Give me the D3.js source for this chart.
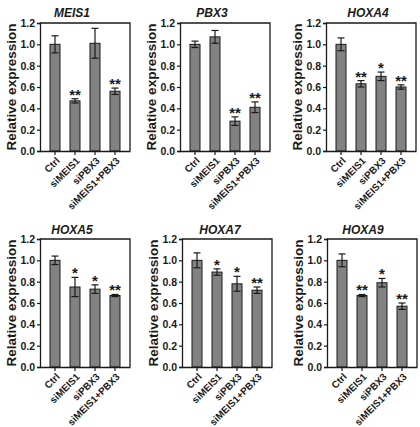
<!DOCTYPE html>
<html>
<head>
<meta charset="utf-8">
<script src="https://cdn.jsdelivr.net/npm/d3@7"></script>
<style>
  body { margin: 0; background: #fff; }
  svg { display: block; font-family: 'Liberation Sans', Arial, sans-serif; }
</style>
</head>
<body>
<svg id="chart" width="420" height="427"></svg>
<script>
const groups = ['Ctrl', 'siMEIS1', 'siPBX3', 'siMEIS1+PBX3'];
const genes = ['MEIS1', 'PBX3', 'HOXA4', 'HOXA5', 'HOXA7', 'HOXA9'];
const yTicks = [0.0, 0.2, 0.4, 0.6, 0.8, 1.0, 1.2];

const meis1Mean = [1.00, 0.47, 1.01, 0.56];
const meis1Err = [0.08, 0.02, 0.14, 0.03];
const meis1Sig = ['', '**', '', '**'];

const pbx3Mean = [1.00, 1.07, 0.28, 0.41];
const pbx3Err = [0.03, 0.06, 0.04, 0.05];
const pbx3Sig = ['', '', '**', '**'];

const hoxa4Mean = [1.00, 0.63, 0.70, 0.60];
const hoxa4Err = [0.06, 0.03, 0.04, 0.02];
const hoxa4Sig = ['', '**', '*', '**'];

const hoxa5Mean = [1.00, 0.75, 0.73, 0.67];
const hoxa5Err = [0.04, 0.09, 0.04, 0.01];
const hoxa5Sig = ['', '*', '*', '**'];

const hoxa7Mean = [1.00, 0.89, 0.78, 0.72];
const hoxa7Err = [0.07, 0.03, 0.07, 0.03];
const hoxa7Sig = ['', '*', '*', '**'];

const hoxa9Mean = [1.00, 0.67, 0.79, 0.57];
const hoxa9Err = [0.06, 0.01, 0.04, 0.03];
const hoxa9Sig = ['', '**', '*', '**'];

const means = [meis1Mean, pbx3Mean, hoxa4Mean, hoxa5Mean, hoxa7Mean, hoxa9Mean];
const errs = [meis1Err, pbx3Err, hoxa4Err, hoxa5Err, hoxa7Err, hoxa9Err];
const sigs = [meis1Sig, pbx3Sig, hoxa4Sig, hoxa5Sig, hoxa7Sig, hoxa9Sig];

// panel placement (plot area) in pixels
const layout = [
    {left: 40, top: 23, titleX: 72, titleY: 17},
    {left: 180, top: 23, titleX: 212, titleY: 17},
    {left: 326, top: 23, titleX: 368, titleY: 17},
    {left: 40, top: 239, titleX: 72, titleY: 234},
    {left: 182, top: 239, titleX: 220, titleY: 234},
    {left: 327, top: 239, titleX: 363, titleY: 234}
];
const plotW = 90;
const plotH = 128;

const barColor = '#828282';
const inkColor = '#1a1a1a';

const svg = d3.select('#chart');

function drawPanel(idx) {
    const pos = layout[idx];
    const g = svg.append('g')
        .attr('transform', 'translate(' + pos.left + ',' + pos.top + ')');

    const x = d3.scaleBand()
        .domain(groups)
        .range([0, plotW])
        .padding(0.5);

    const y = d3.scaleLinear()
        .domain([0, 1.2])
        .range([plotH, 0]);

    const rows = groups.map((name, i) => ({
        name: name,
        mean: means[idx][i],
        err: errs[idx][i],
        sig: sigs[idx][i]
    }));

    // frame (top and right)
    g.append('path')
        .attr('d', 'M0,0H' + plotW + 'V' + plotH)
        .attr('fill', 'none')
        .attr('stroke', inkColor)
        .attr('stroke-width', 1.3);

    // bars
    g.selectAll('rect.bar')
        .data(rows)
        .enter()
        .append('rect')
        .attr('class', 'bar')
        .attr('x', d => x(d.name))
        .attr('width', x.bandwidth())
        .attr('y', d => y(d.mean))
        .attr('height', d => y(0) - y(d.mean))
        .attr('fill', barColor)
        .attr('stroke', inkColor)
        .attr('stroke-width', 1);

    // error bars
    const cap = 3.5;
    const eb = g.selectAll('g.err')
        .data(rows)
        .enter()
        .append('g')
        .attr('class', 'err')
        .attr('transform', d => 'translate(' + (x(d.name) + x.bandwidth() / 2) + ',0)');

    eb.append('line')
        .attr('y1', d => y(d.mean - d.err))
        .attr('y2', d => y(d.mean + d.err))
        .attr('stroke', inkColor)
        .attr('stroke-width', 1.2);
    eb.append('line')
        .attr('x1', -cap).attr('x2', cap)
        .attr('y1', d => y(d.mean + d.err))
        .attr('y2', d => y(d.mean + d.err))
        .attr('stroke', inkColor)
        .attr('stroke-width', 1.2);
    eb.append('line')
        .attr('x1', -cap).attr('x2', cap)
        .attr('y1', d => y(d.mean - d.err))
        .attr('y2', d => y(d.mean - d.err))
        .attr('stroke', inkColor)
        .attr('stroke-width', 1.2);

    // significance stars
    eb.append('text')
        .attr('y', d => y(d.mean + d.err) + 1)
        .attr('text-anchor', 'middle')
        .style('font-size', '15px')
        .style('font-weight', 'bold')
        .attr('fill', inkColor)
        .text(d => d.sig);

    // Y axis
    const yAxis = g.append('g')
        .call(d3.axisLeft(y).tickValues(yTicks).tickFormat(d3.format('.1f')).tickSize(3).tickPadding(2));
    yAxis.select('.domain').attr('stroke', inkColor).attr('stroke-width', 1.3);
    yAxis.selectAll('.tick line').attr('stroke', inkColor).attr('stroke-width', 1.2);
    yAxis.selectAll('text')
        .style('font-size', '10.5px')
        .style('font-weight', 'bold')
        .attr('fill', inkColor);

    // X axis
    const xAxis = g.append('g')
        .attr('transform', 'translate(0,' + plotH + ')')
        .call(d3.axisBottom(x).tickSize(4).tickSizeOuter(0));
    xAxis.select('.domain').attr('stroke', inkColor).attr('stroke-width', 1.3);
    xAxis.selectAll('.tick line').attr('stroke', inkColor).attr('stroke-width', 1.2);
    xAxis.selectAll('text')
        .style('font-size', '9.8px')
        .style('font-weight', 'bold')
        .attr('fill', inkColor)
        .attr('text-anchor', 'end')
        .attr('dy', '0.35em')
        .attr('transform', 'translate(3,8) rotate(-45)')
        .attr('y', 0)
        .attr('x', 0);

    // Y label
    g.append('text')
        .attr('transform', 'translate(' + (-24) + ',' + (plotH / 2) + ') rotate(-90)')
        .attr('text-anchor', 'middle')
        .style('font-size', '13.5px')
        .style('font-weight', 'bold')
        .attr('fill', inkColor)
        .text('Relative expression');

    // title
    svg.append('text')
        .attr('x', pos.titleX)
        .attr('y', pos.titleY)
        .attr('text-anchor', 'middle')
        .style('font-size', '12px')
        .style('font-weight', 'bold')
        .style('font-style', 'italic')
        .attr('fill', inkColor)
        .text(genes[idx]);
}

for (let i = 0; i < genes.length; i++) {
    drawPanel(i);
}
</script>
</body>
</html>
